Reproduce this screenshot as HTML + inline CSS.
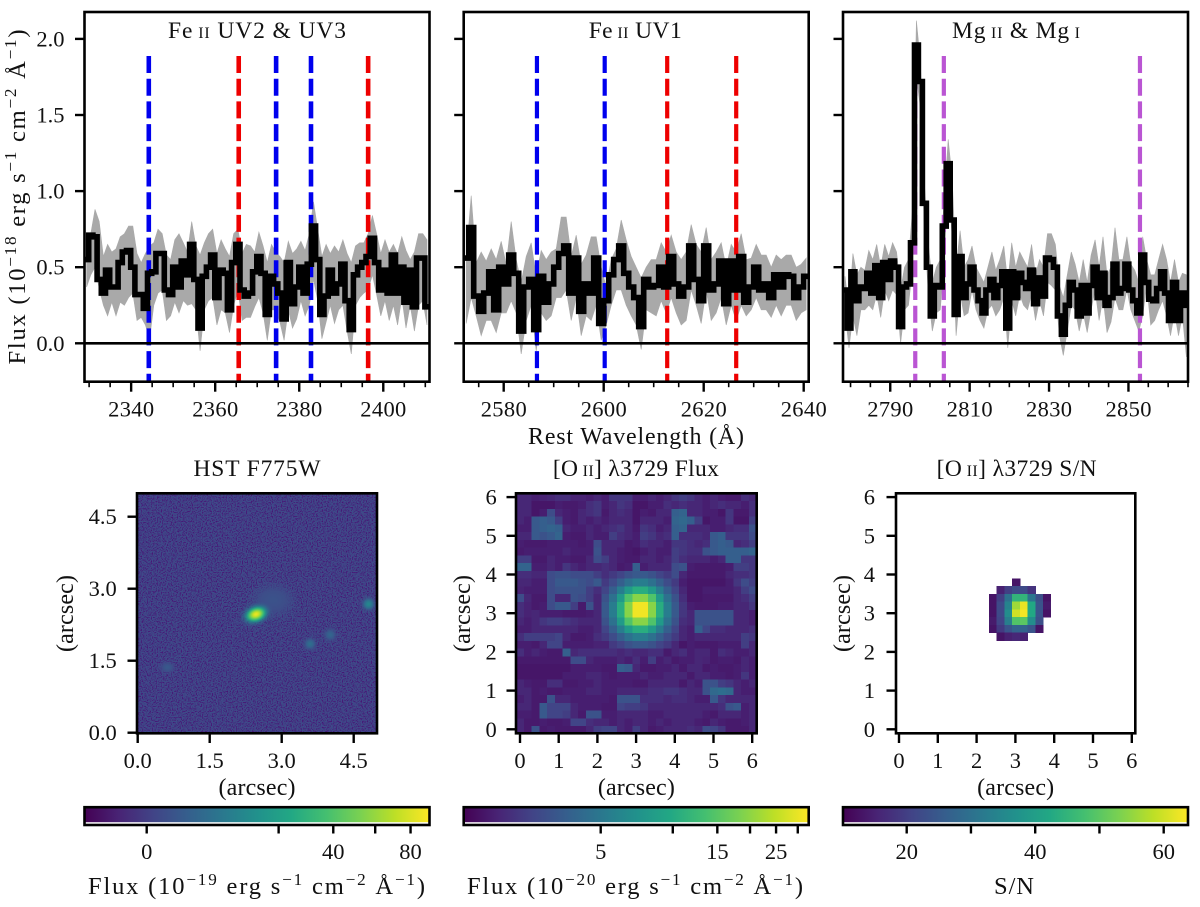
<!DOCTYPE html>
<html lang="en">
<head>
<meta charset="utf-8">
<title>Spectra and emission maps</title>
<style>
html,body{margin:0;padding:0;background:#fff;width:1200px;height:907px;overflow:hidden}
svg{display:block}
text{font-family:"Liberation Serif","DejaVu Serif",serif;fill:#111;white-space:pre}
</style>
</head>
<body>
<svg id="fig" xmlns="http://www.w3.org/2000/svg" width="1200" height="907" viewBox="0 0 1200 907">
<defs>
<filter id="grain" x="0" y="0" width="100%" height="100%" color-interpolation-filters="sRGB">
<feTurbulence type="fractalNoise" baseFrequency="0.8" numOctaves="1" seed="4"/>
<feColorMatrix type="matrix" values="0 0 0 0 .28  0 0 0 0 .08  0 0 0 0 .46  4 0 0 0 -1.8"/>
</filter>
<filter id="soft" x="-5%" y="-5%" width="110%" height="110%" color-interpolation-filters="sRGB">
<feGaussianBlur stdDeviation="5"/>
</filter>
</defs>
</svg>
<script>
// ---------- spectrum data (flux in 10^-18 erg/s/cm2/A), one bin per Angstrom ----------
const uv23WaveStart = 2328.9;
const uv23Flux = [
.55,.71,.70,.42,.33,.48,.37,.37,.53,.60,
.61,.50,.32,.32,.23,.46,.47,.59,.59,.35,
.32,.50,.37,.54,.45,.65,.42,.10,.44,.50,
.58,.30,.48,.46,.22,.53,.65,.35,.31,.33,
.47,.57,.46,.19,.44,.39,.33,.16,.53,.26,
.37,.50,.33,.52,.77,.55,.19,.31,.48,.33,
.39,.52,.28,.09,.45,.50,.53,.57,.69,.53,
.35,.48,.33,.58,.33,.50,.27,.48,.24,.56,
.56,.24];
const uv23High = [
.72,.72,.88,.80,.57,.65,.60,.62,.70,.72,
.77,.77,.59,.53,.59,.64,.66,.75,.72,.58,
.55,.68,.72,.66,.60,.80,.64,.58,.66,.72,
.75,.59,.68,.62,.57,.72,.75,.59,.65,.64,
.60,.73,.64,.53,.65,.60,.57,.53,.67,.59,
.62,.67,.61,.72,.93,.75,.57,.65,.59,.64,
.60,.68,.59,.53,.64,.66,.66,.72,.84,.72,
.59,.68,.60,.65,.59,.70,.61,.55,.60,.72,
.72,.68];
const uv23Low = [
.37,.45,.50,.36,.25,.18,.27,.18,.27,.25,
.30,.33,.15,.17,.12,.03,.25,.33,.35,.15,
.18,.27,.20,.28,.25,.26,.22,-.05,.22,.28,
.30,.12,.22,.20,.07,.25,.35,.15,.17,.17,
.24,.30,.20,.02,.22,.22,.14,.02,.22,.10,
.16,.28,.18,.25,.42,.28,.03,.14,.25,.13,
.22,.25,.08,-.07,.25,.30,.33,.35,.45,.32,
.18,.28,.15,.25,.12,.30,.10,.25,.08,.25,
.28,.12];
const uv23Lines = [2344.2,2365.6,2374.5,2382.8,2396.4];
const uv23LineKinds = ['blue','red','blue','blue','red'];

const uv1WaveStart = 2572;
const uv1Flux = [
.56,.76,.31,.21,.33,.47,.22,.50,.39,.58,
.46,.08,.37,.42,.09,.44,.27,.39,.50,.59,
.64,.33,.56,.21,.39,.33,.56,.13,.28,.45,
.55,.64,.46,.37,.30,.11,.42,.37,.38,.50,
.37,.57,.39,.31,.37,.64,.42,.28,.64,.35,
.39,.54,.26,.54,.35,.57,.27,.37,.50,.35,
.39,.30,.45,.37,.45,.44,.30,.37,.44];
const uv1High = [
.57,.97,.53,.60,.54,.62,.55,.67,.52,.80,
.55,.40,.57,.66,.44,.61,.55,.60,.62,.83,
.83,.57,.71,.52,.58,.70,.70,.50,.37,.55,
.62,.81,.68,.57,.50,.43,.50,.55,.55,.66,
.60,.71,.60,.55,.60,.78,.65,.60,.76,.55,
.60,.66,.50,.65,.60,.72,.55,.56,.65,.58,
.58,.50,.58,.55,.58,.58,.50,.52,.56];
const uv1Low = [
.13,.30,.18,.05,.15,.15,.07,.20,.20,.28,
.20,-.07,.15,.25,-.05,.20,.15,.18,.30,.30,
.35,.15,.30,.05,.18,.15,.25,.02,.12,.25,
.35,.35,.25,.18,.12,-.04,.22,.20,.18,.28,
.20,.30,.20,.12,.15,.35,.25,.13,.35,.15,
.20,.30,.12,.25,.15,.25,.18,.22,.30,.22,
.22,.17,.25,.18,.25,.25,.15,.20,.22];
const uv1Lines = [2586.65,2600.2,2612.7,2626.5];
const uv1LineKinds = ['blue','blue','red','red'];

const mgWaveStart = 2778.1;
const mgFlux = [
.35,.10,.47,.28,.37,.36,.46,.33,.51,.30,
.53,.42,.54,.50,.11,.37,.39,.66,1.96,1.72,
.92,.50,.18,.38,.37,.77,1.18,.81,.19,.57,
.30,.39,.50,.35,.28,.20,.35,.42,.30,.38,
.47,.10,.47,.30,.46,.40,.36,.48,.26,.43,
.31,.56,.55,.50,.18,.06,.25,.40,.35,.18,
.38,.20,.38,.50,.30,.46,.25,.30,.52,.33,
.36,.52,.35,.28,.20,.58,.40,.29,.28,.36,
.47,.33,.15,.40,.15,.33,.25];
const mgHigh = [
.44,.22,.59,.45,.50,.48,.61,.55,.65,.50,
.65,.57,.66,.60,.35,.50,.55,.88,2.12,1.85,
1.05,.65,.40,.50,.55,.95,1.34,1.08,.50,.74,
.50,.55,.64,.50,.45,.40,.50,.60,.48,.55,
.64,.40,.66,.50,.60,.55,.50,.65,.45,.55,
.50,.72,.72,.65,.38,.30,.45,.60,.52,.40,
.55,.40,.58,.68,.50,.70,.45,.50,.76,.55,
.55,.70,.52,.48,.40,.70,.55,.45,.45,.55,
.65,.55,.40,.55,.40,.46,.45];
const mgLow = [
.20,-.03,.18,.05,.22,.22,.25,.22,.32,.17,
.35,.28,.35,.32,.00,.22,.25,.50,1.75,1.55,
.75,.32,.08,.20,.22,.55,1.05,.70,.05,.33,
.18,.20,.35,.22,.15,.10,.22,.25,.18,.22,
.30,-.03,.28,.18,.32,.25,.22,.32,.15,.28,
.18,.40,.38,.35,.05,-.08,.08,.25,.22,.08,
.20,.07,.22,.35,.15,.30,.07,.14,.30,.22,
.22,.35,.22,.15,.08,.18,.38,.12,.15,.22,
.28,.18,.05,.20,.05,.18,-.09];
const mgLines = [2796.3,2803.5,2852.9];
const mgLineKinds = ['orchid','orchid','orchid'];

const fluxTicks = [0,0.5,1,1.5,2];
const fluxTickLabels = ['0.0','0.5','1.0','1.5','2.0'];
const uv23Ticks = [2340,2360,2380,2400];
const uv1Ticks = [2580,2600,2620,2640];
const mgTicks = [2790,2810,2830,2850];

// ---------- HST F775W: smooth background (flux 10^-19), 24x24, plus compact sources ----------
const hstBackground = [
[.3,.3,.2,.3,.3,.2,.3,.3,.2,.3,.3,.3,.2,.3,.3,.3,.3,.2,.2,.3,.3,.2,.3,.3],
[.3,.2,.3,.3,.2,.2,.3,.4,.3,.2,.3,.3,.3,.3,.2,.3,.3,.3,.3,.3,.2,.3,.3,.3],
[.2,.3,.3,.2,.3,.3,.3,.3,.3,.3,.2,.3,.4,.3,.3,.3,.2,.3,.4,.3,.3,.3,.2,.3],
[.3,.3,.4,.3,.3,.2,.3,.3,.2,.3,.3,.3,.3,.3,.3,.3,.3,.3,.3,.3,.3,.2,.3,.3],
[.3,.2,.3,.3,.3,.3,.3,.4,.3,.3,.3,.2,.3,.2,.3,.3,.3,.4,.3,.2,.3,.3,.3,.4],
[.2,.3,.3,.3,.2,.3,.3,.3,.3,.2,.3,.3,.3,.3,.3,.2,.3,.3,.3,.3,.2,.3,.3,.3],
[.3,.3,.3,.3,.3,.3,.2,.3,.3,.3,.4,.3,.3,.3,.3,.3,.3,.3,.2,.3,.3,.3,.3,.3],
[.3,.3,.2,.3,.3,.4,.3,.3,.3,.3,.3,.3,.3,.4,.3,.3,.2,.3,.3,.3,.3,.3,.4,.3],
[.3,.3,.3,.3,.3,.3,.3,.2,.3,.3,.3,.3,.4,.3,.3,.3,.3,.3,.3,.3,.2,.3,.3,.3],
[.2,.3,.3,.3,.3,.3,.3,.3,.3,.3,.3,.4,.4,.4,.4,.3,.3,.3,.3,.3,.3,.3,.3,.3],
[.4,.3,.3,.2,.3,.3,.3,.3,.4,.3,.4,.4,.5,.6,.5,.4,.3,.3,.3,.3,.3,.3,.3,.4],
[.3,.3,.3,.3,.3,.3,.3,.3,.3,.4,.4,.5,.6,.6,.5,.4,.4,.3,.3,.3,.3,.3,.4,.5],
[.3,.3,.2,.3,.3,.3,.4,.3,.3,.3,.4,.5,.6,.5,.4,.4,.3,.3,.3,.3,.3,.3,.3,.3],
[.3,.3,.3,.3,.3,.3,.3,.3,.3,.3,.4,.4,.4,.4,.3,.3,.3,.3,.3,.4,.3,.3,.3,.3],
[.3,.3,.3,.3,.4,.3,.3,.3,.3,.3,.3,.3,.3,.3,.3,.3,.3,.4,.4,.4,.3,.3,.3,.3],
[.3,.3,.3,.4,.3,.3,.3,.3,.3,.3,.3,.3,.3,.3,.3,.3,.3,.3,.3,.3,.3,.3,.3,.3],
[.3,.3,.3,.4,.4,.3,.3,.3,.3,.3,.2,.3,.3,.3,.3,.3,.3,.3,.3,.3,.2,.3,.3,.3],
[.3,.3,.3,.3,.3,.3,.3,.3,.3,.3,.3,.3,.3,.3,.3,.3,.3,.2,.3,.3,.3,.3,.3,.3],
[.3,.3,.3,.3,.3,.3,.4,.3,.3,.3,.3,.3,.3,.3,.3,.3,.3,.3,.3,.3,.3,.3,.3,.3],
[.3,.2,.3,.3,.3,.3,.3,.3,.3,.3,.3,.3,.2,.3,.3,.3,.4,.3,.3,.3,.3,.3,.2,.3],
[.3,.3,.3,.3,.3,.3,.3,.3,.3,.3,.3,.3,.3,.3,.3,.3,.3,.3,.3,.3,.3,.3,.3,.3],
[.3,.3,.2,.3,.3,.3,.3,.3,.4,.3,.3,.3,.3,.3,.3,.3,.3,.3,.2,.3,.3,.3,.3,.3],
[.2,.3,.3,.3,.3,.2,.3,.3,.3,.3,.3,.2,.3,.3,.3,.2,.3,.3,.3,.3,.3,.3,.3,.2],
[.3,.3,.2,.3,.2,.3,.2,.3,.3,.2,.3,.3,.2,.3,.2,.3,.3,.2,.3,.3,.2,.3,.2,.3]];
const hstSourceX = [2.82,2.465,4.81,3.59,4.01,0.62];
const hstSourceY = [2.76,2.467,2.68,1.85,2.04,1.36];
const hstSourcePeak = [0.4,85,10,4,2.4,0.9];
const hstSourceSigmaMajor = [8,5.5,2.8,2.6,2.6,2.8];
const hstSourceSigmaMinor = [6,3.8,2.8,2.6,2.6,2.2];
const hstSourceAngle = [0,-20,0,0,0,0];
const hstTicks = [0,1.5,3,4.5];
const hstTickLabels = ['0.0','1.5','3.0','4.5'];

// ---------- [O II] 3729 flux map, 31x31 cells, normalised colour level (0-100) ----------
const oiiFluxLevels = [
[14,14,12,13,14,16,16,13,13,12,14,12,18,18,18,12,12,14,12,14,18,20,18,14,12,14,12,11,11,16,14],
[14,14,10,10,10,12,11,11,12,16,18,12,14,18,16,10,10,12,12,16,14,16,14,14,12,14,16,14,14,12,16],
[14,14,10,12,24,14,12,11,14,16,18,11,14,16,14,10,12,11,14,14,30,32,14,14,12,12,10,18,11,11,16],
[14,12,28,30,28,20,12,11,14,12,14,12,14,14,14,10,14,14,14,12,32,34,30,20,10,12,12,18,10,10,20],
[12,12,28,30,32,30,14,12,12,14,12,14,16,18,14,11,18,16,12,14,30,32,14,14,14,12,12,14,16,16,26],
[14,14,28,26,28,32,12,11,11,14,12,12,20,16,14,12,20,18,14,16,30,16,16,16,14,28,30,18,18,18,24],
[12,11,11,11,12,12,12,12,11,12,24,14,14,14,11,12,16,14,14,12,18,18,16,14,16,28,30,28,14,16,20],
[11,12,12,12,12,12,14,12,12,12,26,14,14,12,11,10,12,14,12,12,20,18,16,16,26,28,30,30,30,30,32],
[20,20,11,11,14,12,12,11,11,14,24,20,14,12,11,11,14,14,12,14,20,16,14,14,14,12,14,30,30,18,18],
[32,32,12,12,14,12,18,14,12,14,14,16,14,11,12,30,12,14,14,14,24,26,12,11,11,11,11,12,20,20,18],
[16,16,14,14,24,26,26,24,24,24,20,16,19,22,26,28,28,26,22,19,24,14,11,11,11,11,11,14,16,16,18],
[14,14,12,12,24,28,28,28,26,24,28,19,24,30,37,42,42,37,30,24,19,12,10,10,10,10,10,12,18,24,20],
[13,12,12,12,24,26,26,26,26,20,16,22,30,42,54,62,62,54,42,30,22,14,10,10,12,12,12,12,14,20,24],
[24,14,11,11,24,14,14,26,24,20,14,26,37,54,72,82,82,72,54,37,26,16,10,10,11,11,11,11,14,16,20],
[16,13,11,12,24,28,28,20,11,26,14,28,42,62,82,98,98,82,62,42,28,18,12,11,11,11,12,12,14,14,18],
[16,13,14,12,12,12,11,11,11,12,14,28,42,62,82,98,98,82,62,42,28,18,14,26,26,26,26,26,14,14,12],
[14,12,14,18,20,20,18,16,14,14,14,26,37,54,72,82,82,72,54,37,26,16,14,26,26,26,26,26,14,14,12],
[12,12,14,14,14,14,14,14,12,12,14,22,30,42,54,62,62,54,42,30,22,14,12,30,22,16,16,14,14,14,16],
[16,20,20,20,20,22,14,11,11,12,16,19,24,30,37,42,42,37,30,24,19,14,12,14,14,14,14,14,14,20,18],
[12,12,11,14,22,22,12,12,12,12,13,13,19,22,26,28,28,26,22,19,14,10,12,11,11,11,12,12,12,20,14],
[16,12,14,12,11,11,30,14,16,16,16,16,16,14,16,14,14,16,16,11,14,16,12,14,14,11,16,14,12,12,14],
[11,11,11,11,11,11,11,24,24,14,12,12,12,14,12,16,12,20,12,14,11,12,12,14,13,11,12,12,11,14,12],
[10,10,10,10,10,10,10,12,12,12,12,11,11,30,28,14,11,11,12,12,14,11,14,14,11,12,11,11,12,14,12],
[10,10,10,10,10,10,12,12,12,14,14,12,11,12,12,12,14,12,12,14,14,14,11,14,14,12,12,11,12,18,12],
[14,12,11,11,16,16,11,11,12,12,14,12,12,12,12,11,11,14,14,14,14,11,14,12,26,26,20,18,14,12,14],
[14,14,11,12,11,11,12,12,12,14,14,12,12,14,14,14,14,16,16,18,18,16,14,14,26,34,36,34,14,12,12],
[12,14,11,11,26,14,14,12,12,12,12,12,11,26,26,26,16,16,16,14,16,16,14,12,12,28,18,14,14,14,14],
[14,14,11,28,22,22,22,14,12,12,12,11,11,22,20,20,18,14,14,14,14,14,14,14,14,14,16,26,28,12,14],
[12,12,11,28,22,22,20,14,11,26,26,12,12,14,14,14,14,12,12,14,14,14,14,14,12,11,14,14,14,12,14],
[14,11,11,12,11,11,12,22,22,16,14,14,12,14,12,14,14,12,14,12,14,14,14,12,11,14,12,11,11,12,14],
[14,11,26,11,12,11,11,11,11,14,20,22,22,14,12,20,14,11,12,14,14,14,16,14,24,22,18,11,11,11,14]];

// ---------- [O II] 3729 S/N map: only spaxels above the cut, rows 11-18, columns 12-19 ----------
const oiiSnRowStart = 11;
const oiiSnColStart = 12;
const oiiSnValues = [
[null,null,null,13,null,null,null,null],
[null,15,20,22,22,18,null,null],
[13,20,30,45,45,31,23,13],
[13,22,34,56,62,42,24,14],
[13,22,36,60,63,42,24,13],
[14,21,33,49,50,36,23,null],
[13,19,24,27,27,24,13,null],
[null,13,15,16,15,null,null,null]];
const arcsecTicks = [0,1,2,3,4,5,6];

// ---------- colourbar ticks ----------
const hstBarTicks = [0,20,40,60,80];
const hstBarTickLabels = ['0','','40','','80'];
const oiiBarTicks = [5,10,15,20,25,30];
const oiiBarTickLabels = ['5','','15','','25',''];
const snBarTicks = [20,30,40,50,60];
const snBarTickLabels = ['20','','40','','60'];

const viridis = ['#440154','#482475','#414487','#355f8d','#2a788e','#21918c','#22a884','#44bf70','#7ad151','#bddf26','#fde725'];

// ---------- helpers ----------
const NS = 'http://www.w3.org/2000/svg';
const fig = document.getElementById('fig');
function mk(tag, attrs, name, parent) {
  const el = document.createElementNS(NS, tag);
  for (const k in attrs) el.setAttribute(k, attrs[k]);
  
  
  (parent || fig).appendChild(el);
  return el;
}
function hexToRgb(h){return [parseInt(h.slice(1,3),16),parseInt(h.slice(3,5),16),parseInt(h.slice(5,7),16)];}
function cmap(t){
  t = Math.max(0, Math.min(1, t));
  const p = t * (viridis.length - 1), i = Math.min(viridis.length - 2, Math.floor(p)), f = p - i;
  const a = hexToRgb(viridis[i]), b = hexToRgb(viridis[i + 1]);
  return 'rgb(' + a.map((v, j) => Math.round(v + (b[j] - v) * f)).join(',') + ')';
}
// segs: [text, kind] kind 0 normal, 1 superscript, 2 small capitals
function label(x, y, segs, size, name, opts) {
  opts = opts || {};
  const attrs = {x: x, y: y, 'font-size': size, 'text-anchor': opts.anchor || 'middle'};
  if (opts.rotate) attrs.transform = 'rotate(-90 ' + x + ' ' + y + ')';
  if (opts.len) { attrs.textLength = opts.len; attrs.lengthAdjust = 'spacing'; }
  const t = mk('text', attrs, name);
  let raised = 0;
  segs.forEach(function (s) {
    const sp = document.createElementNS(NS, 'tspan');
    const want = s[1] === 1 ? -9 : 0;
    if (want !== raised) { sp.setAttribute('dy', want - raised); raised = want; }
    if (s[1] === 1) sp.setAttribute('font-size', size * 0.7);
    if (s[1] === 2) sp.setAttribute('font-size', size * 0.68);
    sp.textContent = s[0];
    t.appendChild(sp);
  });
  return t;
}
function tick(x1, y1, x2, y2, w, name) {
  return mk('line', {x1: x1, y1: y1, x2: x2, y2: y2, stroke: '#000', 'stroke-width': w}, name);
}

// ---------- spectra ----------
const yScale = v => 343.3 - 152.2 * v;
const SPEC_TOP = 12, SPEC_BOTTOM = 381.7;
const lineColors = {blue: '#0000ee', red: '#ee0000', orchid: '#ba55d3'};

function spectrumPanel(cfg, idx) {
  const xScale = w => cfg.left + (w - cfg.xmin) / (cfg.xmax - cfg.xmin) * (cfg.right - cfg.left);
  const clipId = 'specclip' + idx;
  const cp = mk('clipPath', {id: clipId}, cfg.id + '-clip');
  mk('rect', {x: cfg.left, y: SPEC_TOP, width: cfg.right - cfg.left, height: SPEC_BOTTOM - SPEC_TOP}, cfg.id + '-clip-area', cp);
  const g = mk('g', {'clip-path': 'url(#' + clipId + ')'}, cfg.id + '-plot-area');

  // uncertainty band
  let band = '';
  cfg.high.forEach((v, i) => { band += (i ? 'L' : 'M') + xScale(cfg.start + i + 0.5).toFixed(1) + ' ' + yScale(v).toFixed(1); });
  for (let i = cfg.low.length - 1; i >= 0; i--) band += 'L' + xScale(cfg.start + i + 0.5).toFixed(1) + ' ' + yScale(cfg.low[i]).toFixed(1);
  mk('path', {d: band + 'Z', fill: '#a9a9a9', stroke: '#a9a9a9', 'stroke-width': 0.6}, cfg.id + '-uncertainty-band', g);

  // line markers
  cfg.lines.forEach(function (w, i) {
    mk('line', {x1: xScale(w), x2: xScale(w), y1: 56, y2: SPEC_BOTTOM, stroke: lineColors[cfg.kinds[i]], 'stroke-width': cfg.lineWidth, 'stroke-dasharray': '17 5.7'}, cfg.id + '-line-marker', g);
  });

  // flux step line
  let d = '';
  cfg.flux.forEach((v, i) => {
    d += (i ? 'L' : 'M') + xScale(cfg.start + i).toFixed(1) + ' ' + yScale(v).toFixed(1);
    d += 'L' + xScale(cfg.start + i + 1).toFixed(1) + ' ' + yScale(v).toFixed(1);
  });
  mk('path', {d: d, fill: 'none', stroke: '#000', 'stroke-width': 5.6, 'stroke-linejoin': 'miter', 'stroke-miterlimit': 2}, cfg.id + '-flux-line', g);

  // zero line
  mk('line', {x1: cfg.left, x2: cfg.right, y1: yScale(0), y2: yScale(0), stroke: '#000', 'stroke-width': 2.6}, cfg.id + '-zero-line', g);

  // frame
  mk('rect', {x: cfg.left, y: SPEC_TOP, width: cfg.right - cfg.left, height: SPEC_BOTTOM - SPEC_TOP, fill: 'none', stroke: '#000', 'stroke-width': 2.6}, cfg.id + '-frame');

  // y ticks
  fluxTicks.forEach(function (v, i) {
    tick(cfg.left - 9.5, yScale(v), cfg.left, yScale(v), 2.4, cfg.id + '-y-tick');
    if (cfg.yLabels) label(64.5, yScale(v) + 7.5, [[fluxTickLabels[i], 0]], 22.5, 'y-tick-label', {anchor: 'end'});
  });
  // minor x ticks
  for (let w = Math.ceil(cfg.xmin / 5) * 5; w <= cfg.xmax; w += 5) {
    if (w % 20 !== cfg.ticks[0] % 20) tick(xScale(w), SPEC_BOTTOM, xScale(w), SPEC_BOTTOM + 5.5, 1.6, cfg.id + '-x-minor-tick');
  }
  // major x ticks
  cfg.ticks.forEach(function (w) {
    tick(xScale(w), SPEC_BOTTOM, xScale(w), SPEC_BOTTOM + 10, 2.4, cfg.id + '-x-tick');
    label(xScale(w), 416.7, [[String(w), 0]], 22.5, cfg.id + '-x-tick-label', {len: 46});
  });
  label((cfg.left + cfg.right) / 2 + cfg.titleDx, 38, cfg.title, 23.5, cfg.id + '-title', {len: cfg.titleLen});
}

spectrumPanel({id: 'fe-uv2-uv3', left: 84.5, right: 429.5, xmin: 2328.9, xmax: 2411, start: uv23WaveStart, flux: uv23Flux, high: uv23High, low: uv23Low, lines: uv23Lines, kinds: uv23LineKinds, ticks: uv23Ticks, yLabels: true, lineWidth: 4.6, title: [['Fe', 0], [' II', 2], [' UV2 & UV3', 0]], titleDx: 0, titleLen: 178}, 0);
spectrumPanel({id: 'fe-uv1', left: 463.7, right: 808.7, xmin: 2572, xmax: 2641, start: uv1WaveStart, flux: uv1Flux, high: uv1High, low: uv1Low, lines: uv1Lines, kinds: uv1LineKinds, ticks: uv1Ticks, yLabels: false, lineWidth: 4.2, title: [['Fe', 0], [' II', 2], [' UV1', 0]], titleDx: -1, titleLen: 93}, 1);
spectrumPanel({id: 'mg', left: 843, right: 1188, xmin: 2778.1, xmax: 2865, start: mgWaveStart, flux: mgFlux, high: mgHigh, low: mgLow, lines: mgLines, kinds: mgLineKinds, ticks: mgTicks, yLabels: false, lineWidth: 4.2, title: [['Mg', 0], [' II', 2], [' & Mg', 0], [' I', 2]], titleDx: 0.5, titleLen: 128}, 2);

label(25, 197, [['Flux (10', 0], ['\u221218', 1], [' erg s', 0], ['\u22121', 1], [' cm', 0], ['\u22122', 1], [' \u00c5', 0], ['\u22121', 1], [')', 0]], 24.5, 'y-axis-title', {rotate: true, len: 335});
label(636, 444, [['Rest Wavelength (\u00c5)', 0]], 24, 'x-axis-title', {len: 216});

// ---------- image frames ----------
function imageFrame(cfg) {
  mk('rect', {x: cfg.left, y: 493.3, width: cfg.right - cfg.left, height: 240, fill: 'none', stroke: '#000', 'stroke-width': 2.6}, cfg.id + '-frame');
  cfg.xTicks.forEach(function (v, i) {
    const x = cfg.xOf(v);
    tick(x, 733.3, x, 743, 2.4, cfg.id + '-x-tick');
    label(x, 768, [[cfg.labels(i), 0]], 22.5, cfg.id + '-x-tick-label');
    const y = cfg.yOf(v);
    tick(cfg.left - 9.5, y, cfg.left, y, 2.4, cfg.id + '-y-tick');
    label(cfg.tickRight, y + 7.5, [[cfg.labels(i), 0]], 22.5, cfg.id + '-y-tick-label', {anchor: 'end'});
  });
  label((cfg.left + cfg.right) / 2, 795, [['(arcsec)', 0]], 24, cfg.id + '-x-axis-title', {len: 77});
  label(cfg.ylabelX, 613.5, [['(arcsec)', 0]], 24, cfg.id + '-y-axis-title', {rotate: true, len: 77});
  label((cfg.left + cfg.right) / 2 + cfg.titleDx, 476, cfg.title, 23.5, cfg.id + '-title', {len: cfg.titleLen});
}

// ---------- colourbars ----------
function colorbar(cfg) {
  const gid = cfg.id + '-gradient';
  const gr = mk('linearGradient', {id: gid, x1: 0, x2: 1, y1: 0, y2: 0}, gid);
  viridis.forEach(function (c, i) {
    mk('stop', {offset: i / (viridis.length - 1), 'stop-color': c}, 'gradient-stop', gr);
  });
  mk('rect', {x: cfg.left, y: 807.2, width: 345, height: 15, fill: 'url(#' + gid + ')'}, cfg.id + '-ramp');
  mk('rect', {x: cfg.left, y: 807.2, width: 345, height: 17.8, fill: 'none', stroke: '#000', 'stroke-width': 2.6}, cfg.id + '-outline');
  cfg.ticks.forEach(function (v, i) {
    const x = cfg.xOf(v);
    tick(x, 825, x, 833.5, 2.4, cfg.id + '-tick');
    if (cfg.labels[i]) label(x, 859, [[cfg.labels[i], 0]], 22.5, cfg.id + '-tick-label');
  });
  label(cfg.titleX, 894, cfg.title, 24.5, cfg.id + '-title', {len: cfg.titleLen});
}

// ---------- HST image ----------
const hstBarX = v => 146.7 + 29.5 * Math.sign(v) * Math.sqrt(Math.abs(v));
const hstColor = v => cmap((hstBarX(v) - 84.5) / 345);
(function () {
  const L = 137, T = 493.3, S = 240;
  const xOf = v => 137.7 + 48 * v;
  const yOf = v => 732.7 - 48 * v;
  const cp = mk('clipPath', {id: 'hstclip'}, 'hst-clip');
  mk('rect', {x: L, y: T, width: S, height: S}, 'hst-clip-area', cp);
  const root = mk('g', {'clip-path': 'url(#hstclip)'}, 'hst-image');
  mk('rect', {x: L, y: T, width: S, height: S, fill: hstColor(0.3)}, 'hst-base', root);
  const bg = mk('g', {filter: 'url(#soft)', 'shape-rendering': 'crispEdges'}, 'hst-background', root);
  const n = hstBackground.length, cell = S / n;
  hstBackground.forEach(function (row, r) {
    row.forEach(function (v, c) {
      mk('rect', {x: L + c * cell, y: T + r * cell, width: cell + 0.5, height: cell + 0.5, fill: hstColor(v)}, 'hst-background-cell', bg);
    });
  });
  mk('rect', {x: L, y: T, width: S, height: S, filter: 'url(#grain)'}, 'hst-noise-texture', root);
  hstSourceX.forEach(function (sx, i) {
    const id = 'hstsrc' + i;
    const gr = mk('radialGradient', {id: id}, 'hst-source-gradient');
    const reach = 3.4;
    for (let k = 0; k <= 12; k++) {
      const r = k / 12 * reach;
      const v = hstSourcePeak[i] * Math.exp(-r * r / 2) + 0.3;
      const op = r < reach * 0.45 ? 1 : Math.max(0, (reach - r) / (reach * 0.55));
      mk('stop', {offset: k / 12, 'stop-color': hstColor(v), 'stop-opacity': op.toFixed(2)}, 'gradient-stop', gr);
    }
    mk('ellipse', {cx: xOf(sx), cy: yOf(hstSourceY[i]), rx: hstSourceSigmaMajor[i] * reach, ry: hstSourceSigmaMinor[i] * reach, fill: 'url(#' + id + ')', transform: 'rotate(' + hstSourceAngle[i] + ' ' + xOf(sx) + ' ' + yOf(hstSourceY[i]) + ')'}, 'hst-source', root);
  });
  imageFrame({id: 'hst', left: 137, right: 377, xTicks: hstTicks, xOf: xOf, yOf: yOf, labels: i => hstTickLabels[i], tickRight: 116.7, ylabelX: 73, title: [['HST F775W', 0]], titleDx: 0, titleLen: 127});
  colorbar({id: 'hst-colorbar', left: 84.5, ticks: hstBarTicks, labels: hstBarTickLabels, xOf: hstBarX, titleX: 256.5, titleLen: 337, title: [['Flux (10', 0], ['\u221219', 1], [' erg s', 0], ['\u22121', 1], [' cm', 0], ['\u22122', 1], [' \u00c5', 0], ['\u22121', 1], [')', 0]]});
})();

// ---------- [O II] flux map ----------
const oiiColorPosition = v => v < 30 ? (v - 5) / 25 * 0.30 : v / 100;
(function () {
  const L = 516, T = 493.3, S = 240.7, n = oiiFluxLevels.length, cell = S / n;
  const g = mk('g', {'shape-rendering': 'crispEdges'}, 'oii-flux-map');
  oiiFluxLevels.forEach(function (row, r) {
    row.forEach(function (v, c) {
      mk('rect', {x: L + c * cell, y: T + r * cell, width: cell + 0.4, height: cell + 0.4, fill: cmap(oiiColorPosition(v))}, 'oii-flux-cell', g);
    });
  });
  imageFrame({id: 'oii-flux', left: 516, right: 756.7, xTicks: arcsecTicks, xOf: v => 520 + 38.7 * v, yOf: v => 729.3 - 38.7 * v, labels: i => String(arcsecTicks[i]), tickRight: 496.7, ylabelX: 470, title: [['[O', 0], [' II', 2], ['] \u03bb3729 Flux', 0]], titleDx: -0.5, titleLen: 166});
  colorbar({id: 'oii-flux-colorbar', left: 463.7, ticks: oiiBarTicks, labels: oiiBarTickLabels, xOf: v => -403.6 + 855 * Math.pow(v, 0.1), titleX: 635, titleLen: 336, title: [['Flux (10', 0], ['\u221220', 1], [' erg s', 0], ['\u22121', 1], [' cm', 0], ['\u22122', 1], [' \u00c5', 0], ['\u22121', 1], [')', 0]]});
})();

// ---------- [O II] S/N map ----------
(function () {
  const L = 896, T = 493.3, cell = 240 / 31;
  const snBarX = v => 906.7 + 6.425 * (v - 20);
  const g = mk('g', {'shape-rendering': 'crispEdges'}, 'oii-sn-map');
  oiiSnValues.forEach(function (row, r) {
    row.forEach(function (v, c) {
      if (v === null) return;
      mk('rect', {x: L + (oiiSnColStart + c) * cell, y: T + (oiiSnRowStart + r) * cell, width: cell + 0.4, height: cell + 0.4, fill: cmap((snBarX(v) - 843) / 345)}, 'oii-sn-cell', g);
    });
  });
  imageFrame({id: 'oii-sn', left: 896, right: 1135.3, xTicks: arcsecTicks, xOf: v => 899 + 38.8 * v, yOf: v => 729.3 - 38.7 * v, labels: i => String(arcsecTicks[i]), tickRight: 875, ylabelX: 850, title: [['[O', 0], [' II', 2], ['] \u03bb3729 S/N', 0]], titleDx: 1, titleLen: 160});
  colorbar({id: 'oii-sn-colorbar', left: 843, ticks: snBarTicks, labels: snBarTickLabels, xOf: snBarX, titleX: 1014, titleLen: 40, title: [['S/N', 0]]});
})();
</script>
</body>
</html>
